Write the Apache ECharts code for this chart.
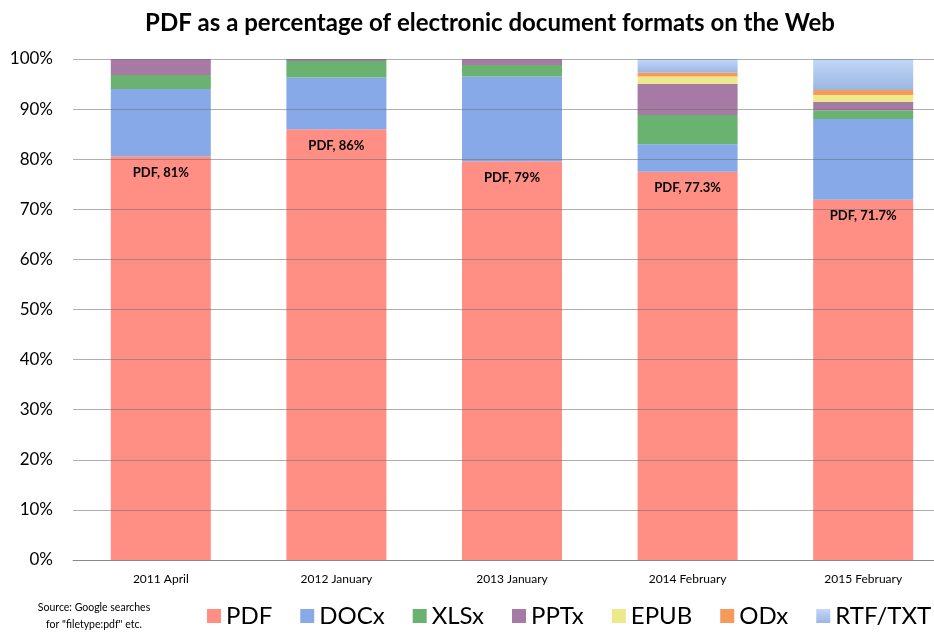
<!DOCTYPE html>
<html>
<head>
<meta charset="utf-8">
<script src="https://cdn.jsdelivr.net/npm/echarts@6/dist/echarts.min.js"></script>
<style>html,body{margin:0;padding:0;background:#fff;overflow:hidden}#c{width:951px;height:635px}</style>
</head>
<body>
<div id="c"></div>
<script>
var categories = ['2011 April', '2012 January', '2013 January', '2014 February', '2015 February'];
var pdf  = [80.6, 86.0, 79.6, 77.5, 71.9];
var docx = [13.4, 10.3, 16.9, 5.5, 16.1];
var xlsx = [2.8, 3.3, 2.3, 5.8, 1.7];
var pptx = [3.2, 0.4, 1.2, 6.2, 1.7];
var epub = [0, 0, 0, 1.5, 1.4];
var odx  = [0, 0, 0, 0.8, 1.0];
var rtf  = [0, 0, 0, 2.7, 6.2];
var pdfLabels = ['81%', '86%', '79%', '77.3%', '71.7%'];
var yTicks = [0, 10, 20, 30, 40, 50, 60, 70, 80, 90, 100];

var FONT = 'Lato, "Open Sans", sans-serif';
var chart = echarts.init(document.getElementById('c'));

function bar(name, data, color, extra) {
  var s = {
    name: name, type: 'bar', stack: 'all', data: data, barWidth: 100,
    itemStyle: { color: color },
    emphasis: { disabled: true }
  };
  if (extra) for (var k in extra) s[k] = extra[k];
  return s;
}

var rtfGrad = new echarts.graphic.LinearGradient(0, 0, 0, 1, [
  { offset: 0, color: '#C3D8F8' }, { offset: 1, color: '#9BB6E2' }
]);

chart.setOption({
  animation: false,
  title: {
    text: 'PDF as a percentage of electronic document formats on the Web',
    left: 485, top: 6, textAlign: 'center',
    textStyle: { fontFamily: FONT, fontWeight: 'bold', fontSize: 24, color: '#000' }
  },
  grid: { left: 73, top: 59, width: 878, height: 501, containLabel: false },
  legend: {
    left: 202, top: 599, itemWidth: 14, itemHeight: 14, itemGap: 28,
    icon: 'rect',
    textStyle: { fontFamily: FONT, fontSize: 24, color: '#000' },
    data: ['PDF', 'DOCx', 'XLSx', 'PPTx', 'EPUB', 'ODx', 'RTF/TXT']
  },
  graphic: [{
    type: 'text', x: 94, y: 599,
    style: {
      text: 'Source: Google searches\nfor "filetype:pdf" etc.',
      fontFamily: FONT, fontSize: 10.5, lineHeight: 17, fill: '#000', align: 'center'
    }
  }],
  xAxis: {
    type: 'category', data: categories,
    axisLine: { lineStyle: { color: '#aaa' } },
    axisTick: { show: false },
    axisLabel: { fontFamily: FONT, fontSize: 12, color: '#000', margin: 13 }
  },
  yAxis: {
    type: 'value', min: 0, max: 100, interval: 10, z: 5,
    axisLabel: {
      fontFamily: FONT, fontSize: 17, color: '#000', margin: 20,
      formatter: function (v) { return yTicks.indexOf(v) >= 0 ? v + '%' : ''; }
    },
    splitLine: { lineStyle: { color: 'rgba(110,110,110,0.55)', width: 1 } },
    axisLine: { show: false }, axisTick: { show: false }
  },
  series: [
    bar('PDF', pdf, '#FF8E85', {
      label: {
        show: true, position: 'insideTop', distance: 10,
        fontFamily: FONT, fontWeight: 'bold', fontSize: 13, color: '#000',
        formatter: function (p) { return 'PDF, ' + pdfLabels[p.dataIndex]; }
      }
    }),
    bar('DOCx', docx, '#87A9E8'),
    bar('XLSx', xlsx, '#6AB270'),
    bar('PPTx', pptx, '#A77AA6'),
    bar('EPUB', epub, '#EEE98A'),
    bar('ODx', odx, '#F59A5B'),
    bar('RTF/TXT', rtf, rtfGrad)
  ]
});
</script>
</body>
</html>
